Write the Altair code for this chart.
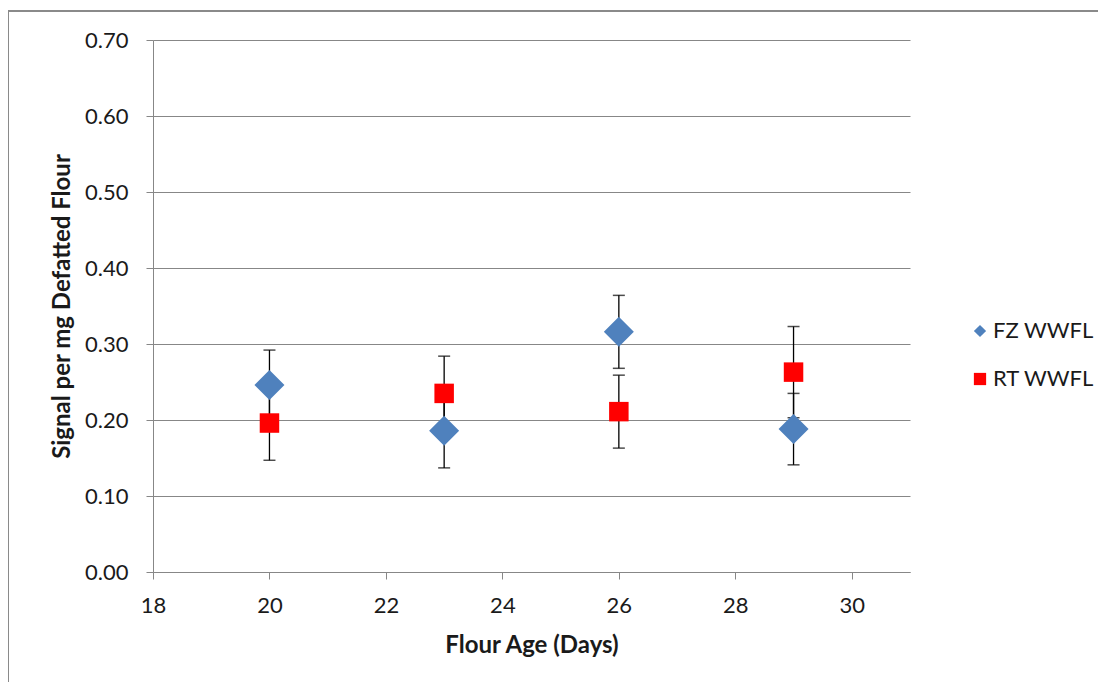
import altair as alt
import pandas as pd

days = [20, 23, 26, 29]
fz_vals = [0.246, 0.186, 0.316, 0.188]
fz_err = [0.046, 0.049, 0.048, 0.047]
rt_vals = [0.196, 0.235, 0.211, 0.263]
rt_err = [0.049, 0.049, 0.048, 0.060]
series = ["FZ WWFL", "RT WWFL"]
x_ticks = [18, 20, 22, 24, 26, 28, 30]
y_ticks = [0.0, 0.1, 0.2, 0.3, 0.4, 0.5, 0.6, 0.7]

rows = []
for d, v, e in zip(days, fz_vals, fz_err):
    rows.append({"day": d, "value": v, "err": e, "series": series[0]})
for d, v, e in zip(days, rt_vals, rt_err):
    rows.append({"day": d, "value": v, "err": e, "series": series[1]})
df = pd.DataFrame(rows)

FONT = "Lato"
TXT = "#1a1a1a"
GRID = "#878787"

xscale = alt.Scale(domain=[18, 31], nice=False, zero=False)
yscale = alt.Scale(domain=[0, 0.7], nice=False)

base = alt.Chart(df).transform_calculate(
    lo="datum.value - datum.err", hi="datum.value + datum.err"
)

x_enc = alt.X(
    "day:Q",
    scale=xscale,
    axis=alt.Axis(
        values=x_ticks,
        format="d",
        title="Flour Age (Days)",
        grid=False,
        labelFontSize=22,
        labelFont=FONT,
        labelColor=TXT,
        titleFont=FONT,
        titleFontSize=24,
        titleFontWeight="bold",
        titleColor=TXT,
        titlePadding=17,
        labelPadding=16,
        tickSize=7,
        tickColor=GRID,
        domainColor=GRID,
        labelFlush=False,
    ),
)
y_axis = alt.Axis(
    values=y_ticks,
    format=".2f",
    title="Signal per mg Defatted Flour",
    grid=True,
    gridColor=GRID,
    labelFontSize=22,
    labelFont=FONT,
    labelColor=TXT,
    titleFont=FONT,
    titleFontSize=24,
    titleFontWeight="bold",
    titleColor=TXT,
    titlePadding=10,
    labelPadding=18,
    tickSize=7,
    tickColor=GRID,
    domainColor=GRID,
)

rules = base.mark_rule(color="black", strokeWidth=1.3).encode(
    x=x_enc,
    y=alt.Y("lo:Q", scale=yscale, axis=y_axis),
    y2="hi:Q",
)
caps_lo = base.mark_tick(color="black", orient="horizontal", size=12, thickness=1.5).encode(
    x=alt.X("day:Q", scale=xscale), y=alt.Y("lo:Q", scale=yscale)
)
caps_hi = base.mark_tick(color="black", orient="horizontal", size=12, thickness=1.5).encode(
    x=alt.X("day:Q", scale=xscale), y=alt.Y("hi:Q", scale=yscale)
)

color_enc = alt.Color(
    "series:N",
    scale=alt.Scale(domain=series, range=["#4F81BD", "#FF0000"]),
    legend=alt.Legend(
        title=None,
        orient="none",
        legendX=816,
        legendY=280,
        labelFontSize=22,
        labelFont=FONT,
        labelColor=TXT,
        symbolSize=150,
        rowPadding=26,
        labelOffset=2,
    ),
)
shape_enc = alt.Shape(
    "series:N",
    scale=alt.Scale(domain=series, range=["diamond", "square"]),
    legend=None,
)

points_fz = base.transform_filter(alt.datum.series == series[0]).mark_point(
    filled=True, opacity=1, size=900
).encode(
    x=alt.X("day:Q", scale=xscale),
    y=alt.Y("value:Q", scale=yscale),
    color=color_enc,
    shape=shape_enc,
)
points_rt = base.transform_filter(alt.datum.series == series[1]).mark_point(
    filled=True, opacity=1, size=380
).encode(
    x=alt.X("day:Q", scale=xscale),
    y=alt.Y("value:Q", scale=yscale),
    color=color_enc,
    shape=shape_enc,
)

border = alt.Chart(pd.DataFrame({"a": [0]})).mark_rect(
    fill=None, stroke="#8a8a8a", strokeWidth=2
).encode(
    x=alt.value(-145), x2=alt.value(1100), y=alt.value(-29), y2=alt.value(700)
)

chart = (
    alt.layer(border, rules, caps_lo, caps_hi, points_fz, points_rt)
    .properties(
        width=757,
        height=532,
        autosize=alt.AutoSizeParams(type="none"),
        padding={"left": 145, "top": 32, "right": 188, "bottom": 110},
        background="white",
    )
    .configure_view(stroke=None)
)

chart.save("out.html", embed_options={"renderer": "svg", "actions": False})
